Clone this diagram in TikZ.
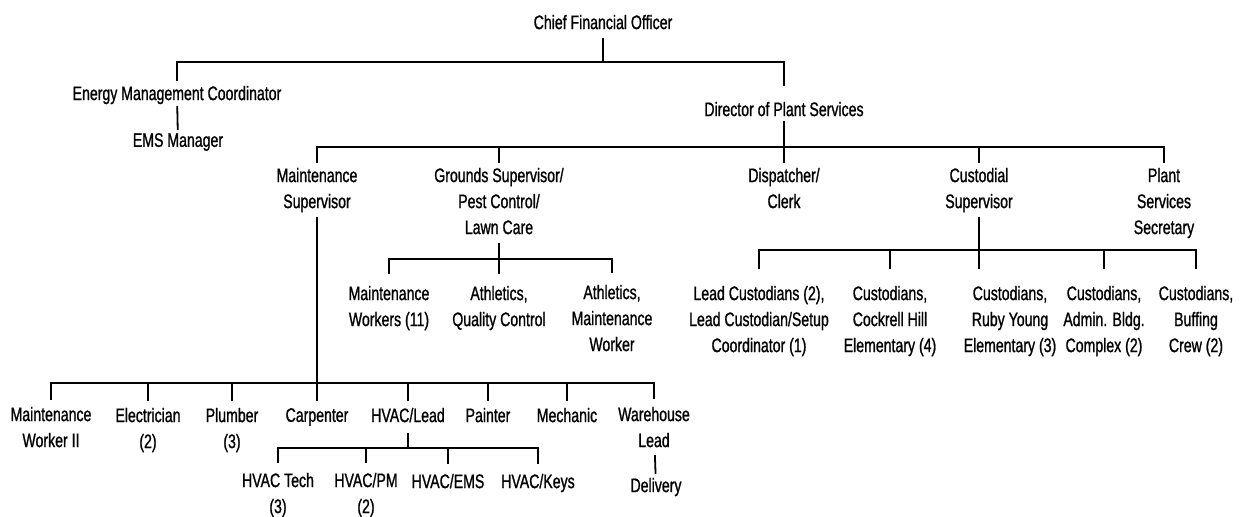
\documentclass[tikz,border=0pt]{standalone}
\usepackage{fontspec}
\setmainfont{Liberation Sans}[FakeStretch=0.72, FakeBold=1]
\usepackage{tikz}

\tikzset{
  role/.style={align=center, inner sep=0pt, outer sep=2.5pt, text depth=2pt, font=\fontsize{9.8}{13}\selectfont},
  link/.style={line width=0.9pt},
}

\begin{document}
\begin{tikzpicture}[x=0.5pt, y=-0.5pt]
      \useasboundingbox (0,0) rectangle (1244,517);
      \node[role] (cfo) at (603,24) {Chief Financial Officer};
      \node[role] (emc) at (177,95) {Energy Management Coordinator};
      \node[role] (ems) at (178,142) {EMS Manager};
      \node[role] (dps) at (784,111) {Director of Plant Services};
      \node[role] (mts) at (317,190) {Maintenance\\Supervisor};
      \node[role] (gsp) at (499,203) {Grounds Supervisor/\\Pest Control/\\Lawn Care};
      \node[role] (dis) at (784,190) {Dispatcher/\\Clerk};
      \node[role] (cus) at (979,190) {Custodial\\Supervisor};
      \node[role] (psc) at (1164,203) {Plant\\Services\\Secretary};
      \node[role, outer sep=6pt] (mwk) at (389,308) {Maintenance\\Workers (11)};
      \node[role, outer sep=6pt] (aqc) at (499,308) {Athletics,\\Quality Control};
      \node[role, outer sep=6pt] (amw) at (612,320) {Athletics,\\Maintenance\\Worker};
      \node[role, outer sep=8.5pt] (lcu) at (759,321) {Lead Custodians (2),\\Lead Custodian/Setup\\Coordinator (1)};
      \node[role, outer sep=8.5pt] (chl) at (890,321) {Custodians,\\Cockrell Hill\\Elementary (4)};
      \node[role, outer sep=8.5pt] (rby) at (1010,321) {Custodians,\\Ruby Young\\Elementary (3)};
      \node[role, outer sep=8.5pt] (adm) at (1104,321) {Custodians,\\Admin. Bldg.\\Complex (2)};
      \node[role, outer sep=8.5pt] (buf) at (1196,321) {Custodians,\\Buffing\\Crew (2)};
      \node[role, outer sep=3.5pt] (mw2) at (51,429) {Maintenance\\Worker II};
      \node[role, outer sep=3.5pt] (ele) at (148,430) {Electrician\\(2)};
      \node[role, outer sep=3.5pt] (plm) at (232,430) {Plumber\\(3)};
      \node[role, outer sep=3.5pt] (car) at (317,417) {Carpenter};
      \node[role, outer sep=3.5pt] (hvl) at (408,417) {HVAC/Lead};
      \node[role, outer sep=3.5pt] (pnt) at (488,417) {Painter};
      \node[role, outer sep=3.5pt] (mec) at (567,417) {Mechanic};
      \node[role, outer sep=4pt] (whl) at (654,429) {Warehouse\\Lead};
      \node[role, outer sep=4pt] (dlv) at (656,487) {Delivery};
      \node[role, outer sep=5pt] (hvt) at (278,495) {HVAC Tech\\(3)};
      \node[role, outer sep=5pt] (hpm) at (366,495) {HVAC/PM\\(2)};
      \node[role, outer sep=5pt] (hve) at (448,483) {HVAC/EMS};
      \node[role, outer sep=5pt] (hvk) at (538,483) {HVAC/Keys};
      \coordinate (j1) at (603,62);
      \coordinate (j2) at (784,147);
      \coordinate (j3) at (499,259);
      \coordinate (j5) at (979,250);
      \coordinate (j6) at (317,383);
      \coordinate (j7) at (408,448);
      \draw[link] (cfo) -- (j1);
      \draw[link, shorten >=5.5pt] (emc) |- (j1) -| (dps);
      \draw[link, shorten <=-1.5pt, shorten >=-1pt] (emc) -- (ems);
      \draw[link, shorten <=-2pt] (dps) -- (dis);
      \draw[link] (mts) |- (j2) -| (psc);
      \draw[link] (gsp) -- (gsp |- j2);
      \draw[link] (cus) -- (cus |- j2);
      \draw[link] (gsp) -- (aqc);
      \draw[link] (mwk) |- (j3) -| (amw);
      \draw[link] (cus) -- (cus |- rby.north);
      \draw[link] (lcu) |- (j5) -| (buf);
      \draw[link] (chl) -- (chl |- j5);
      \draw[link] (adm) -- (adm |- j5);
      \draw[link] (mts) -- (car);
      \draw[link] (mw2) |- (j6) -| (whl);
      \draw[link] (ele) -- (ele |- j6);
      \draw[link] (plm) -- (plm |- j6);
      \draw[link] (hvl) -- (hvl |- j6);
      \draw[link] (pnt) -- (pnt |- j6);
      \draw[link] (mec) -- (mec |- j6);
      \draw[link] (hvl) -- (j7);
      \draw[link] (hvt) |- (j7) -| (hvk);
      \draw[link] (hpm) -- (hpm |- j7);
      \draw[link] (hve) -- (hve |- j7);
      \draw[link, shorten <=-2pt, shorten >=-2pt] (whl) -- (dlv);
    \end{tikzpicture}
\end{document}
